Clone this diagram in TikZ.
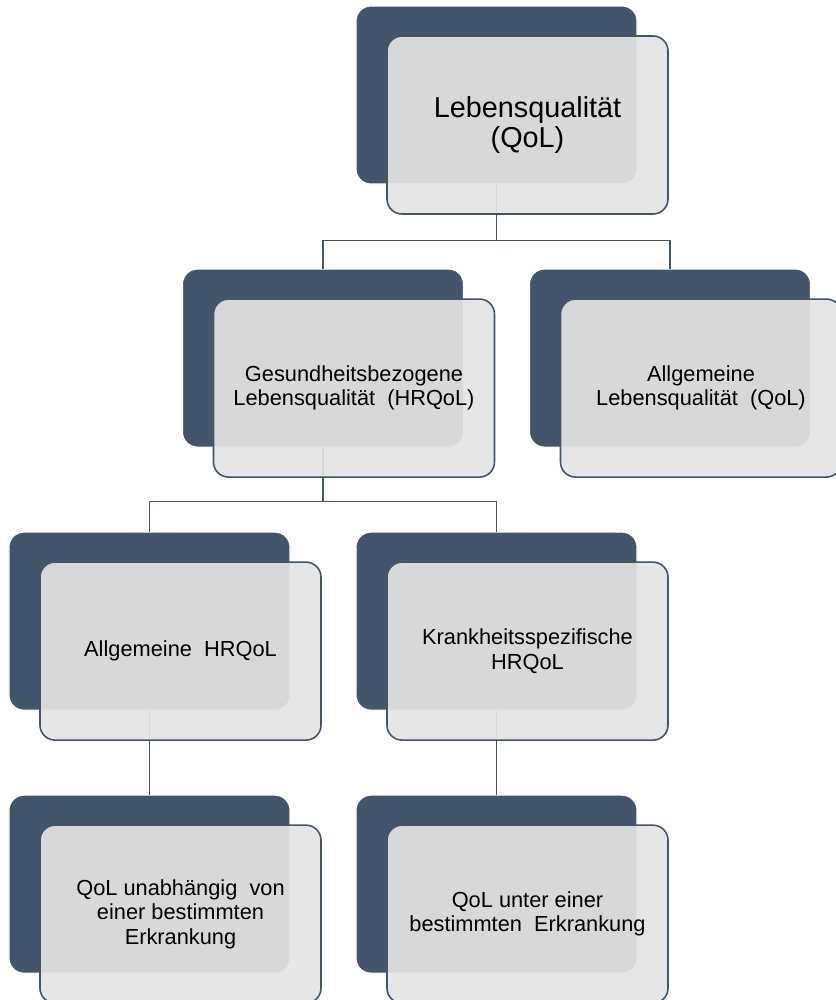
\documentclass[tikz,border=0pt]{standalone}
\usepackage{fontspec}
\setmainfont{Liberation Sans}
\usetikzlibrary{positioning}
\definecolor{slate}{RGB}{68,84,106}
\definecolor{pane}{RGB}{228,228,228}

\begin{document}
\begin{tikzpicture}[
  back/.style={rectangle, rounded corners=0.3cm, fill=slate, draw=white, line width=0.6pt,
    minimum width=5.62cm, minimum height=3.56cm},
  front/.style={rectangle, rounded corners=0.3cm, fill=pane, fill opacity=0.92, text opacity=1,
    draw=slate, line width=0.9pt, minimum width=5.62cm, minimum height=3.56cm,
    align=center, font=\fontsize{12.4}{13.8}\selectfont},
  link/.style={draw=slate, line width=1pt},
  node distance=1.68cm
]
  \useasboundingbox (0,0) rectangle (16.7,-20);
  \node[back] (qol) at (9.93,-1.9) {};
  \node[back, below=of qol, xshift=-3.47cm] (hrqol) {};
  \node[back, below=of qol, xshift=3.47cm] (aqol) {};
  \node[back, below=of hrqol, xshift=-3.47cm] (ahr) {};
  \node[back, below=of hrqol, xshift=3.47cm] (khr) {};
  \node[back, below=of ahr] (unab) {};
  \node[back, below=of khr] (unter) {};
  \draw[link] (qol.south) -- ++(0,-1.12) -| (hrqol.north);
  \draw[link] (qol.south) -- ++(0,-1.12) -| (aqol.north);
  \draw[link] (hrqol.south) -- ++(0,-1.08) -| (ahr.north);
  \draw[link] (hrqol.south) -- ++(0,-1.08) -| (khr.north);
  \draw[link] (ahr.south) -- (unab.north);
  \draw[link] (khr.south) -- (unter.north);
  \node[front, font=\fontsize{16.4}{17.2}\selectfont] (qolF) at ([xshift=0.62cm, yshift=-0.6cm]qol) {Lebensqualität\\(QoL)};
  \node[front] (hrqolF) at ([xshift=0.62cm, yshift=-0.6cm]hrqol) {Gesundheitsbezogene\\Lebensqualität~~(HRQoL)};
  \node[front] (aqolF) at ([xshift=0.62cm, yshift=-0.6cm]aqol) {Allgemeine\\Lebensqualität~~(QoL)};
  \node[front] (ahrF) at ([xshift=0.62cm, yshift=-0.6cm]ahr) {Allgemeine~~HRQoL};
  \node[front] (khrF) at ([xshift=0.62cm, yshift=-0.6cm]khr) {Krankheitsspezifische\\HRQoL};
  \node[front] (unabF) at ([xshift=0.62cm, yshift=-0.6cm]unab) {QoL unabhängig~~von\\einer bestimmten\\Erkrankung};
  \node[front] (unterF) at ([xshift=0.62cm, yshift=-0.6cm]unter) {QoL unter einer\\bestimmten~~Erkrankung};
\end{tikzpicture}
\end{document}
